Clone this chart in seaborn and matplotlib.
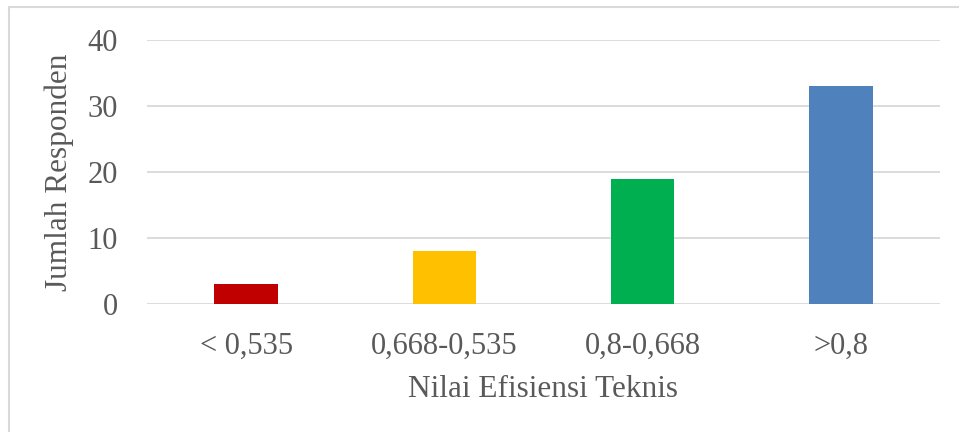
import matplotlib
matplotlib.use("Agg")
import matplotlib.pyplot as plt
import matplotlib.patches as mpatches
import pandas as pd
import seaborn as sns

# Data
categories = ["< 0,535", "0,668-0,535", "0,8-0,668", ">0,8"]
respondents = [3, 8, 19, 33]
bar_colors = ["#C00000", "#FFC000", "#00B050", "#4F81BD"]
y_ticks = [0, 10, 20, 30, 40]

TEXT_COLOR = "#595959"
GRID_COLOR = "#D9D9D9"

sns.set_style("white")
plt.rcParams["font.family"] = ["Liberation Serif", "DejaVu Serif"]

df = pd.DataFrame({"Kategori": categories, "Jumlah": respondents})

fig = plt.figure(figsize=(9.59, 4.32), dpi=100)
ax = fig.add_axes([147 / 959, 1 - 304 / 432, (940 - 147) / 959, (304 - 40) / 432])

sns.barplot(
    data=df,
    x="Kategori",
    y="Jumlah",
    hue="Kategori",
    palette=bar_colors,
    legend=False,
    width=0.32,
    saturation=1,
    linewidth=0,
    ax=ax,
    zorder=3,
)

ax.set_ylim(0, 40)
ax.set_yticks(y_ticks)
ax.set_xlim(-0.5, len(categories) - 0.5)
ax.grid(True, axis="y", color=GRID_COLOR, linewidth=1.3, zorder=0)
ax.set_axisbelow(True)
for side in ["top", "right", "left", "bottom"]:
    ax.spines[side].set_visible(False)

ax.tick_params(axis="both", length=0, labelsize=22, colors=TEXT_COLOR)
ax.tick_params(axis="x", pad=20)
ax.tick_params(axis="y", pad=21)
ax.set_xlabel("Nilai Efisiensi Teknis", fontsize=22.5, color=TEXT_COLOR, labelpad=10)
ax.set_ylabel("Jumlah Responden", fontsize=22.5, color=TEXT_COLOR, labelpad=10)

# Light chart frame (right and bottom edges fall outside the image)
frame = mpatches.Rectangle(
    (9 / 959, -0.1), 1.1, 1.1 - 7 / 432,
    transform=fig.transFigure, fill=False,
    edgecolor=GRID_COLOR, linewidth=1.5,
)
fig.patches.append(frame)

fig.savefig("out.png", dpi=100)
